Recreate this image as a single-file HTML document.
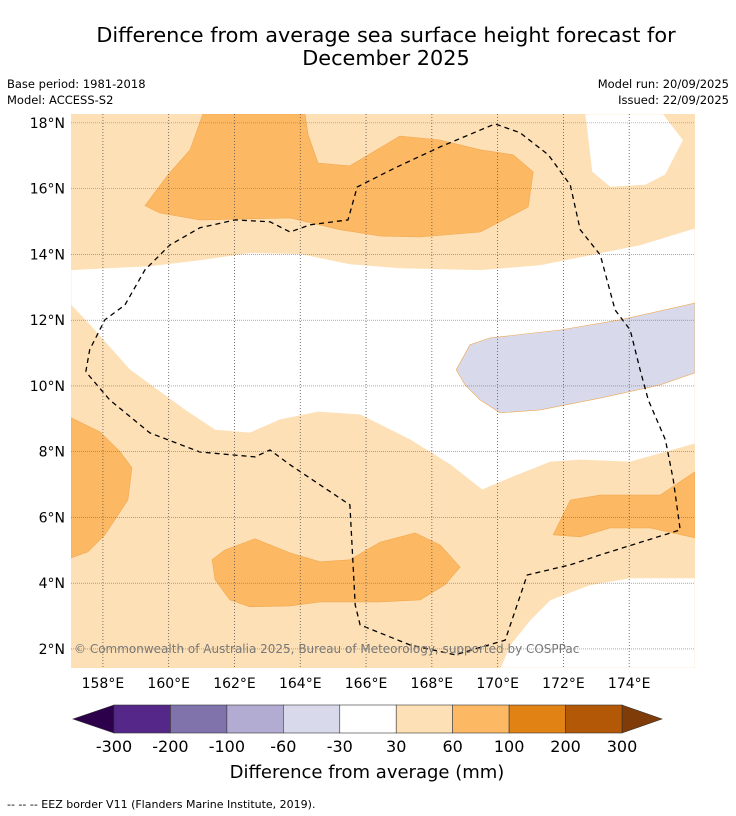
<!DOCTYPE html>
<html><head><meta charset="utf-8"><style>
body{margin:0;background:#fff;font-family:"Liberation Sans","DejaVu Sans",sans-serif;}
svg{display:block}
</style></head><body>
<svg id="c" width="736" height="816" xmlns="http://www.w3.org/2000/svg" font-family="DejaVu Sans, Liberation Sans, sans-serif">
<text x="386" y="42" font-size="20.8" text-anchor="middle">Difference from average sea surface height forecast for</text>
<text x="386" y="65" font-size="20.8" text-anchor="middle">December 2025</text>
<text x="7" y="88" font-size="11.5">Base period: 1981-2018</text>
<text x="7" y="104" font-size="11.5">Model: ACCESS-S2</text>
<text x="729" y="88" font-size="11.5" text-anchor="end">Model run: 20/09/2025</text>
<text x="729" y="104" font-size="11.5" text-anchor="end">Issued: 22/09/2025</text>
<g id="map"></g>
<g id="axes"></g>
<text x="74" y="653" font-size="12" fill="#777">© Commonwealth of Australia 2025, Bureau of Meteorology, supported by COSPPac</text>
<g id="cbar"></g>
<text x="367" y="778" font-size="18" text-anchor="middle">Difference from average (mm)</text>
<text x="7" y="808" font-size="11">--  --  -- EEZ border V11 (Flanders Marine Institute, 2019).</text>
</svg>
<script>
const lonTicks=[158,160,162,164,166,168,170,172,174];
const latTicks=[2,4,6,8,10,12,14,16,18];
const whiteBand=[[157.03,12.46],[157.6,11.86],[158.82,10.49],[160.49,9.27],[161.41,8.66],[162.47,8.57],[163.38,8.97],[164.54,9.21],[165.82,9.12],[167.34,8.36],[168.56,7.6],[169.53,6.84],[170.38,7.2],[171.6,7.69],[172.51,7.75],[174.03,7.69],[176,8.24],[176,14.8],[174.33,14.29],[172.81,13.98],[171.29,13.68],[169.47,13.53],[167.03,13.59],[165.51,13.71],[164,14.02],[162.47,14.05],[160.95,13.83],[159.43,13.65],[157.03,13.53]];
const whiteTopRight=[[175.03,18.27],[175.64,17.48],[175.1,16.42],[174.49,16.11],[173.42,16.05],[172.87,16.51],[172.66,18.27]];
const whiteBottomRight=[[176,4.16],[174.03,4.16],[172.81,3.95],[171.6,3.49],[170.99,2.88],[170.38,2.12],[170.08,1.42],[176,1.42]];
const orangeTop=[[161.04,18.27],[164.14,18.27],[164.24,17.63],[164.54,16.78],[165.51,16.69],[167.03,17.6],[168.25,17.48],[169.47,17.18],[170.47,17.03],[171.08,16.51],[170.93,15.44],[169.47,14.68],[167.64,14.53],[166.43,14.56],[165.21,14.75],[163.69,15.11],[160.95,15.05],[159.73,15.26],[159.28,15.48],[159.98,16.42],[160.65,17.18]];
const orangeLeft=[[157.03,9.03],[157.91,8.6],[158.52,8.0],[158.88,7.51],[158.76,6.53],[158.06,5.47],[157.54,4.95],[157.03,4.77]];
const orangeBottom=[[161.32,4.71],[161.71,5.01],[162.62,5.35],[163.69,4.92],[164.6,4.65],[165.51,4.71],[166.43,5.25],[167.49,5.53],[168.25,5.16],[168.86,4.49],[168.4,3.95],[167.64,3.49],[166.43,3.43],[164.6,3.43],[163.69,3.31],[162.47,3.28],[161.86,3.49],[161.41,4.1]];
const orangeRight=[[176,7.39],[174.94,6.68],[173.12,6.68],[172.21,6.53],[171.69,5.47],[172.51,5.41],[173.42,5.68],[174.64,5.68],[176,5.38]];
const lavender=[[168.74,10.49],[169.16,11.25],[169.77,11.46],[171.9,11.7],[173.73,12.01],[176,12.52],[176,10.4],[174.94,10.03],[173.12,9.63],[171.29,9.27],[170.08,9.18],[169.47,9.57],[169.01,10.03]];
const eez=[[157.48,10.43],[157.6,11.1],[158.06,12.01],[158.67,12.46],[159.28,13.53],[160.04,14.29],[160.95,14.81],[162.02,15.05],[163.08,14.99],[163.69,14.68],[164.3,14.9],[165.45,15.05],[165.73,16.05],[166.88,16.63],[168.25,17.27],[169.92,17.97],[170.68,17.7],[171.54,17.03],[172.21,16.11],[172.51,14.75],[173.12,13.98],[173.57,12.31],[174.03,11.7],[174.33,10.49],[174.58,9.57],[175.1,8.36],[175.34,7.14],[175.55,5.62],[173.12,4.86],[172.21,4.56],[170.9,4.25],[170.23,2.27],[168.71,1.82],[167.34,2.12],[165.82,2.73],[165.67,3.34],[165.51,6.38],[163.69,7.6],[163.08,8.05],[162.62,7.84],[160.95,7.99],[159.43,8.57],[158.21,9.57],[157.48,10.43]];
const cbLevels=["-300","-200","-100","-60","-30","30","60","100","200","300"];
const cbColors=["#542788","#8073ac","#b2abd2","#d8daeb","#ffffff","#fee0b6","#fdb863","#e08214","#b35806"];

const NS="http://www.w3.org/2000/svg";
const X0=71,X1=695,Y0=114,Y1=668;
const lonMin=157.03,lonMax=176.0,latMin=1.42,latMax=18.27;
const xs=l=>X0+(l-lonMin)/(lonMax-lonMin)*(X1-X0);
const ys=l=>Y1-(l-latMin)/(latMax-latMin)*(Y1-Y0);
function mk(tag,attrs,parent){const e=document.createElementNS(NS,tag);for(const k in attrs)e.setAttribute(k,attrs[k]);parent.appendChild(e);return e;}
const map=document.getElementById('map');
const clip=mk('clipPath',{id:'clipm'},map);mk('rect',{x:X0,y:Y0,width:X1-X0,height:Y1-Y0},clip);
const g=mk('g',{'clip-path':'url(#clipm)'},map);
const bg=mk('rect',{x:X0,y:Y0,width:X1-X0,height:Y1-Y0,fill:'#fee0b6'},g);


const pts=a=>a.map(p=>xs(p[0]).toFixed(1)+','+ys(p[1]).toFixed(1)).join(' ');
const polys=[[whiteBand,'#ffffff','contour-white-band'],[whiteTopRight,'#ffffff','contour-white-top-right'],[whiteBottomRight,'#ffffff','contour-white-bottom-right'],[orangeTop,'#fdb863','contour-60-100-top'],[orangeLeft,'#fdb863','contour-60-100-left'],[orangeBottom,'#fdb863','contour-60-100-bottom'],[orangeRight,'#fdb863','contour-60-100-right'],[lavender,'#d8daeb','contour-lavender']];
polys.forEach(([a,c,n])=>{
  const p=mk('polygon',{points:pts(a),fill:c,stroke:c==='#ffffff'?'#fee0b6':'#f0a850','stroke-width':0.6},g);
  
  
});
const ax=document.getElementById('axes');
lonTicks.forEach(l=>{
  const x=xs(l);
  const ln=mk('line',{x1:x,x2:x,y1:Y0,y2:Y1,stroke:'#555','stroke-width':0.8,'stroke-dasharray':'1,2'},ax);
  
  
  const t=mk('text',{x:x,y:Y1+20,'font-size':14,'text-anchor':'middle'},ax);t.textContent=l+'°E';
  
  
});
latTicks.forEach(l=>{
  const y=ys(l);
  const ln=mk('line',{x1:X0,x2:X1,y1:y,y2:y,stroke:'#777','stroke-width':0.6,'stroke-dasharray':'1,1'},ax);
  
  
  const t=mk('text',{x:X0-6,y:y+5,'font-size':14,'text-anchor':'end'},ax);t.textContent=l+'°N';
  
  
});
const ez=mk('polyline',{points:pts(eez),fill:'none',stroke:'#000','stroke-width':1.3,'stroke-dasharray':'5,4'},g);


const cb=document.getElementById('cbar');
const cx0=114,cx1=622,cy0=705,cy1=733,seg=(cx1-cx0)/cbColors.length;
const la=mk('polygon',{points:`${cx0},${cy0} ${cx0},${cy1} 73,${(cy0+cy1)/2}`,fill:'#2d004b',stroke:'#333','stroke-width':0.6},cb);


const ra=mk('polygon',{points:`${cx1},${cy0} ${cx1},${cy1} 662,${(cy0+cy1)/2}`,fill:'#7f3b08',stroke:'#333','stroke-width':0.6},cb);


cbColors.forEach((c,i)=>{
  const r=mk('rect',{x:cx0+i*seg,y:cy0,width:seg,height:cy1-cy0,fill:c,stroke:'#333','stroke-width':0.6},cb);
  
  
});
cbLevels.forEach((v,i)=>{
  const t=mk('text',{x:cx0+i*seg,y:752,'font-size':16,'text-anchor':'middle'},cb);t.textContent=v;
  
  
});
</script>
</body></html>
